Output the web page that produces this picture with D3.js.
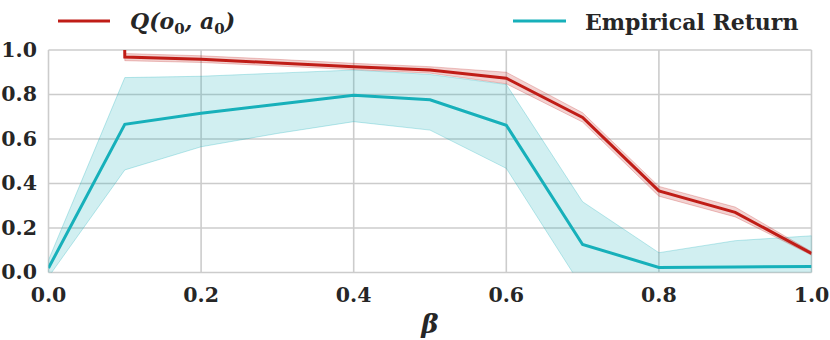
<!DOCTYPE html>
<html lang="en">
    <head>
        <meta charset="UTF-8" />
        <title>Q vs Empirical Return</title>
        <script src="https://d3js.org/d3.v7.min.js"></script>
        <style>
            body {
                margin: 0;
                background: #fff;
            }
            text {
                font-family: "DejaVu Serif", serif;
                font-weight: bold;
                fill: #262626;
            }
        </style>
    </head>
    <body>
        <svg width="830" height="340"></svg>

        <script>
            // beta values on the x axis
            const beta = [0, 0.1, 0.2, 0.3, 0.4, 0.5, 0.6, 0.7, 0.8, 0.9, 1.0];

            // Q(o0, a0) mean and band (value at beta=0 runs far off the top)
            const qMean = [30, 0.968, 0.958, 0.942, 0.925, 0.91, 0.873, 0.697, 0.367, 0.27, 0.086];
            const qLow = [28, 0.952, 0.944, 0.928, 0.912, 0.896, 0.848, 0.676, 0.343, 0.25, 0.078];
            const qHigh = [32, 0.984, 0.974, 0.958, 0.94, 0.925, 0.9, 0.718, 0.387, 0.294, 0.094];

            // empirical return mean and band
            const retMean = [0.02, 0.666, 0.716, 0.756, 0.797, 0.776, 0.662, 0.126, 0.023, 0.025, 0.027];
            const retLow = [-0.02, 0.461, 0.565, 0.625, 0.678, 0.64, 0.468, -0.07, -0.06, -0.05, -0.05];
            const retHigh = [0.056, 0.876, 0.882, 0.896, 0.91, 0.89, 0.845, 0.318, 0.089, 0.143, 0.165];

            const xTicks = [0, 0.2, 0.4, 0.6, 0.8, 1.0];
            const yTicks = [0, 0.2, 0.4, 0.6, 0.8, 1.0];

            const red = "#c01d17";
            const cyan = "#17b0ba";

            const svg = d3.select("svg");
            const margin = { left: 48.5, right: 18.5, top: 50, bottom: 67.5 };
            const width = 830, height = 340;

            const x = d3.scaleLinear().domain([0, 1]).range([margin.left, width - margin.right]);
            const y = d3.scaleLinear().domain([0, 1]).range([height - margin.bottom, margin.top]);

            svg.append("clipPath")
                .attr("id", "plot")
                .append("rect")
                .attr("x", x(0))
                .attr("y", y(1))
                .attr("width", x(1) - x(0))
                .attr("height", y(0) - y(1));

            // grid
            const grid = svg.append("g").attr("stroke", "#cccccc").attr("stroke-width", 1.6);
            grid.selectAll(".gx")
                .data(xTicks)
                .enter()
                .append("line")
                .attr("x1", (d) => x(d))
                .attr("x2", (d) => x(d))
                .attr("y1", y(0))
                .attr("y2", y(1));
            grid.selectAll(".gy")
                .data(yTicks)
                .enter()
                .append("line")
                .attr("y1", (d) => y(d))
                .attr("y2", (d) => y(d))
                .attr("x1", x(0))
                .attr("x2", x(1));

            const plot = svg.append("g").attr("clip-path", "url(#plot)");

            const area = (lo, hi) =>
                d3.area()
                    .x((d, i) => x(beta[i]))
                    .y0((d, i) => y(lo[i]))
                    .y1((d, i) => y(hi[i]));
            const line = d3.line()
                .x((d, i) => x(beta[i]))
                .y((d) => y(d));

            plot.append("path")
                .datum(beta)
                .attr("d", area(retLow, retHigh))
                .attr("fill", cyan)
                .attr("fill-opacity", 0.2)
                .attr("stroke", cyan)
                .attr("stroke-opacity", 0.35)
                .attr("stroke-width", 0.8);

            plot.append("path")
                .datum(beta)
                .attr("d", area(qLow, qHigh))
                .attr("fill", red)
                .attr("fill-opacity", 0.2)
                .attr("stroke", red)
                .attr("stroke-opacity", 0.3)
                .attr("stroke-width", 0.8);

            plot.append("path")
                .datum(qMean)
                .attr("d", line)
                .attr("fill", "none")
                .attr("stroke", red)
                .attr("stroke-width", 3);

            plot.append("path")
                .datum(retMean)
                .attr("d", line)
                .attr("fill", "none")
                .attr("stroke", cyan)
                .attr("stroke-width", 3);

            // tick labels
            svg.append("g")
                .selectAll("text")
                .data(yTicks)
                .enter()
                .append("text")
                .attr("x", 37)
                .attr("y", (d) => y(d))
                .attr("dy", "0.34em")
                .attr("text-anchor", "end")
                .attr("font-size", 20.5)
                .text((d) => d.toFixed(1));

            svg.append("g")
                .selectAll("text")
                .data(xTicks)
                .enter()
                .append("text")
                .attr("x", (d) => x(d))
                .attr("y", 302)
                .attr("text-anchor", "middle")
                .attr("font-size", 20.5)
                .text((d) => d.toFixed(1));

            svg.append("text")
                .attr("x", x(0.5))
                .attr("y", 333)
                .attr("text-anchor", "middle")
                .attr("font-size", 26)
                .attr("font-style", "italic")
                .text("β");

            // legend
            const legend = svg.append("g");
            legend.append("line")
                .attr("x1", 58).attr("x2", 110)
                .attr("y1", 21).attr("y2", 21)
                .attr("stroke", red).attr("stroke-width", 3);
            const qLabel = legend.append("text")
                .attr("x", 130)
                .attr("y", 29)
                .attr("font-size", 22)
                .attr("font-style", "italic");
            qLabel.append("tspan").text("Q(o");
            qLabel.append("tspan").attr("font-size", 15).attr("dy", 5).attr("font-style", "normal").text("0");
            qLabel.append("tspan").attr("dy", -5).text(", a");
            qLabel.append("tspan").attr("font-size", 15).attr("dy", 5).attr("font-style", "normal").text("0");
            qLabel.append("tspan").attr("dy", -5).text(")");

            legend.append("line")
                .attr("x1", 513).attr("x2", 566)
                .attr("y1", 21).attr("y2", 21)
                .attr("stroke", cyan).attr("stroke-width", 3);
            legend.append("text")
                .attr("x", 585)
                .attr("y", 30)
                .attr("font-size", 22)
                .text("Empirical Return");
        </script>
    </body>
</html>
